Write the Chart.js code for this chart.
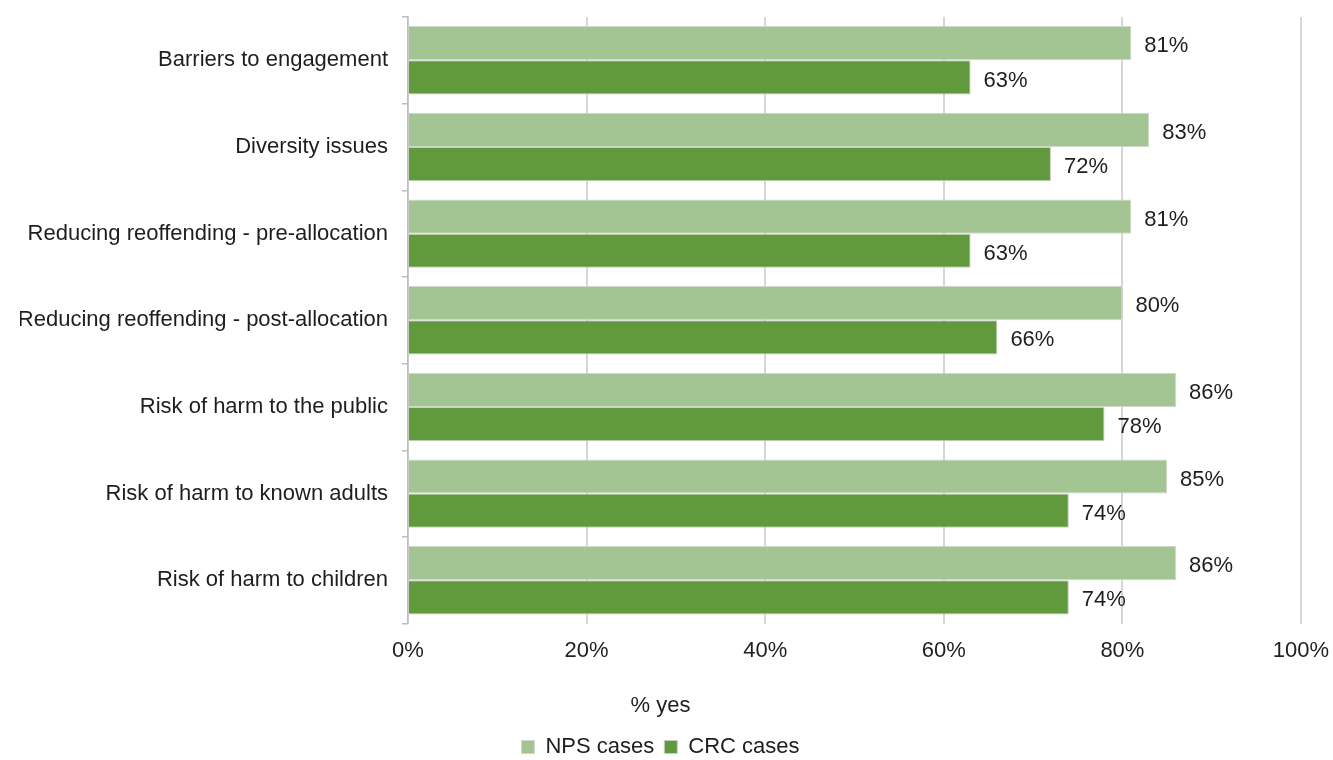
<!DOCTYPE html>
<html>
<head>
<meta charset="utf-8">
<script src="https://cdn.jsdelivr.net/npm/chart.js@4"></script>
<style>
  html, body { margin: 0; padding: 0; background: #fff; }
  #wrap { width: 1333px; height: 760px; }
</style>
</head>
<body>
<div id="wrap"><canvas id="chart"></canvas></div>
<script>
// categories, top to bottom
const categories = [
    'Barriers to engagement',
    'Diversity issues',
    'Reducing reoffending - pre-allocation',
    'Reducing reoffending - post-allocation',
    'Risk of harm to the public',
    'Risk of harm to known adults',
    'Risk of harm to children'
];
const npsValues = [81, 83, 81, 80, 86, 85, 86];
const crcValues = [63, 72, 63, 66, 78, 74, 74];
const xTicks = [0, 20, 40, 60, 80, 100];

const FONT = 'Liberation Sans, Arial, sans-serif';
const TEXT = '#1e1e1e';

// draws the "81%" labels after the end of each bar
const valueLabels = {
    id: 'valueLabels',
    afterDatasetsDraw(chart) {
        const ctx = chart.ctx;
        ctx.save();
        ctx.font = '22px ' + FONT;
        ctx.fillStyle = TEXT;
        ctx.textAlign = 'left';
        ctx.textBaseline = 'middle';
        chart.data.datasets.forEach(function(ds, i) {
            chart.getDatasetMeta(i).data.forEach(function(bar, j) {
                ctx.fillText(ds.data[j] + '%', bar.x + 13, bar.y + 3);
            });
        });
        ctx.restore();
    }
};

new Chart(document.getElementById('chart'), {
    type: 'bar',
    data: {
        labels: categories,
        datasets: [{
            label: 'NPS cases',
            data: npsValues,
            backgroundColor: '#a3c593',
            borderColor: '#cfd8cb',
            borderWidth: 1,
            categoryPercentage: 0.79,
            barPercentage: 1.0
        }, {
            label: 'CRC cases',
            data: crcValues,
            backgroundColor: '#619a3d',
            borderColor: '#c9cfc5',
            borderWidth: 1,
            categoryPercentage: 0.79,
            barPercentage: 1.0
        }]
    },
    options: {
        indexAxis: 'y',
        responsive: true,
        maintainAspectRatio: false,
        animation: false,
        layout: {
            padding: { top: 17, right: 32, left: 20, bottom: 0 }
        },
        scales: {
            x: {
                min: 0,
                max: 100,
                afterBuildTicks(scale) {
                    scale.ticks = xTicks.map(v => ({ value: v }));
                },
                afterFit(scale) {
                    scale.height = 40;
                    scale.paddingLeft = 0;
                    scale.paddingRight = 0;
                },
                ticks: {
                    padding: 14,
                    color: TEXT,
                    font: { family: FONT, size: 22 },
                    callback: v => v + '%'
                },
                grid: {
                    color: '#d6d6d6',
                    lineWidth: 2,
                    drawTicks: false
                },
                border: { display: false }
            },
            y: {
                afterFit(scale) {
                    scale.width = 388;
                    scale.paddingTop = 0;
                    scale.paddingBottom = 0;
                },
                ticks: {
                    padding: 14,
                    color: TEXT,
                    font: { family: FONT, size: 22 }
                },
                grid: {
                    drawOnChartArea: false,
                    drawTicks: true,
                    tickLength: 6,
                    color: '#bdbdbd',
                    lineWidth: 1.5
                },
                border: { display: true, color: '#bdbdbd', width: 1.5 }
            }
        },
        plugins: {
            title: {
                display: true,
                text: '% yes',
                position: 'bottom',
                weight: 500,
                color: TEXT,
                font: { family: FONT, size: 22, weight: 'normal' },
                padding: { top: 29, bottom: 7 }
            },
            legend: {
                position: 'bottom',
                maxHeight: 34,
                labels: {
                    color: TEXT,
                    font: { family: FONT, size: 22 },
                    boxWidth: 13,
                    boxHeight: 13,
                    padding: 10
                }
            },
            tooltip: { enabled: false }
        }
    },
    plugins: [valueLabels]
});
</script>
</body>
</html>
